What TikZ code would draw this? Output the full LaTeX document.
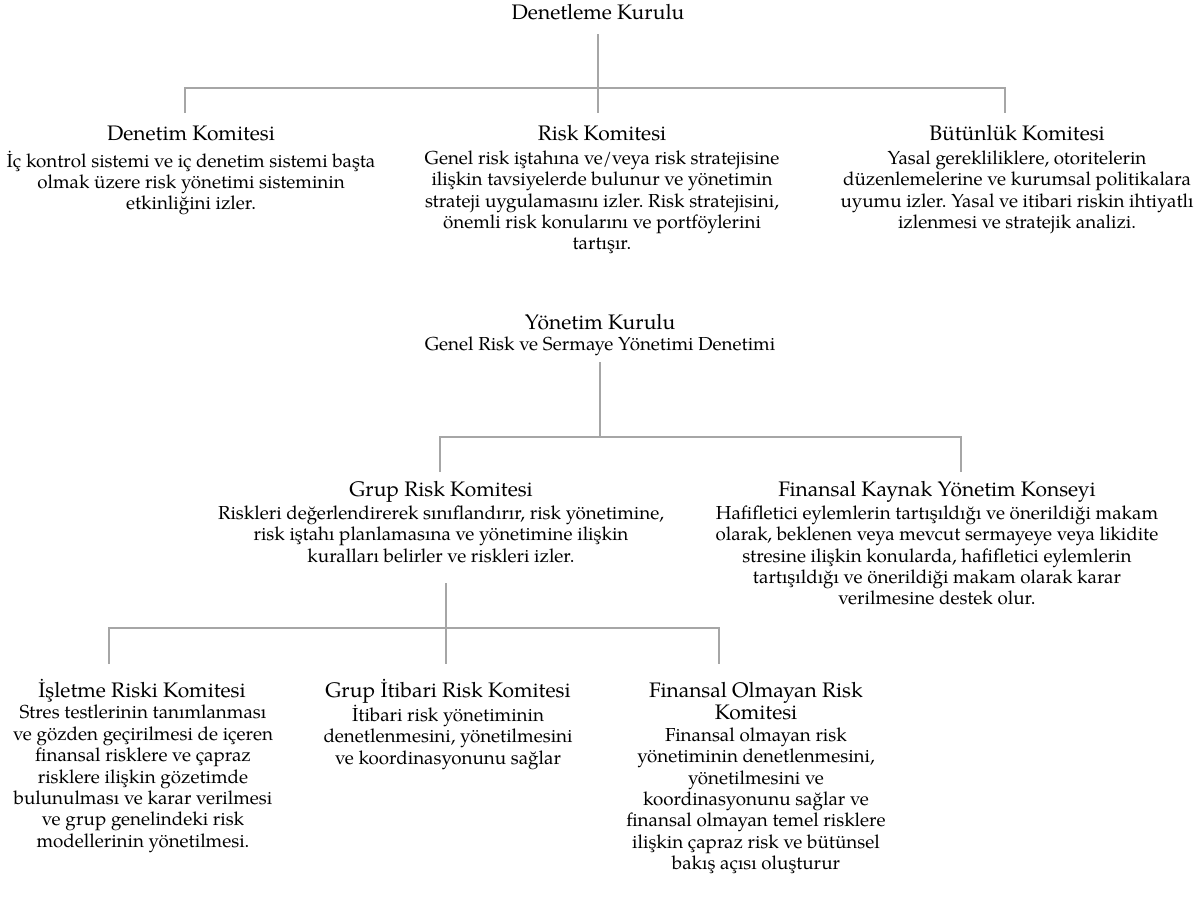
\documentclass[tikz,border=0pt]{standalone}
\usepackage{fontspec}
\setmainfont{TeX Gyre Pagella}
\frenchspacing
\begin{document}
\begin{tikzpicture}[x=1pt,y=-1pt,
  conn/.style={draw=black!35, line width=1.2pt},
  ttl/.style={font=\fontsize{21}{22}\selectfont, inner sep=0pt, align=center, anchor=base},
  ttl2/.style={font=\fontsize{21}{22}\selectfont, inner sep=0pt, align=center, anchor=north, execute at begin node=\strut},
  bdy/.style={font=\fontsize{18.8}{21.4}\selectfont, inner sep=0pt, align=center, anchor=north, execute at begin node=\strut},
  sub/.style={font=\fontsize{18.8}{21}\selectfont, inner sep=0pt, align=center, anchor=base}]
\useasboundingbox (0,0) rectangle (1204,910);

% level 1
\node[ttl] (dk) at (598,19) {Denetleme Kurulu};

\node[ttl] (dnk) at (191,140) {Denetim Komitesi};
\node[bdy] (dnkb) at (191,150.5) {İç kontrol sistemi ve iç denetim sistemi başta\\olmak üzere risk yönetimi sisteminin\\etkinliğini izler.};

\node[ttl] (rk) at (602,140) {Risk Komitesi};
\node[bdy] (rkb) at (602,150.5) {Genel risk iştahına ve/veya risk stratejisine\\ilişkin tavsiyelerde bulunur ve yönetimin\\strateji uygulamasını izler. Risk stratejisini,\\önemli risk konularını ve portföylerini\\tartışır.};

\node[ttl] (bk) at (1017,140) {Bütünlük Komitesi};
\node[bdy] (bkb) at (1017,150.5) {Yasal gerekliliklere, otoritelerin\\düzenlemelerine ve kurumsal politikalara\\uyumu izler. Yasal ve itibari riskin ihtiyatlı\\izlenmesi ve stratejik analizi.};

% level 2
\node[ttl] (yk) at (600,329) {Yönetim Kurulu};
\node[sub] (ykb) at (600,350) {Genel Risk ve Sermaye Yönetimi Denetimi};

\node[ttl] (grk) at (441,496) {Grup Risk Komitesi};
\node[bdy] (grkb) at (441,505.5) {Riskleri değerlendirerek sınıflandırır, risk yönetimine,\\risk iştahı planlamasına ve yönetimine ilişkin\\kuralları belirler ve riskleri izler.};

\node[ttl] (fky) at (937,496) {Finansal Kaynak Yönetim Konseyi};
\node[bdy] (fkyb) at (937,505.5) {Hafifletici eylemlerin tartışıldığı ve önerildiği makam\\olarak, beklenen veya mevcut sermayeye veya likidite\\stresine ilişkin konularda, hafifletici eylemlerin\\tartışıldığı ve önerildiği makam olarak karar\\verilmesine destek olur.};

% level 3
\node[ttl] (irk) at (142,697) {İşletme Riski Komitesi};
\node[bdy] (irkb) at (143,705) {Stres testlerinin tanımlanması\\ve gözden geçirilmesi de içeren\\finansal risklere ve çapraz\\risklere ilişkin gözetimde\\bulunulması ve karar verilmesi\\ve grup genelindeki risk\\modellerinin yönetilmesi.};

\node[ttl] (gir) at (448,697) {Grup İtibari Risk Komitesi};
\node[bdy] (girb) at (448,705) {İtibari risk yönetiminin\\denetlenmesini, yönetilmesini\\ve koordinasyonunu sağlar};

\node[ttl2] (for) at (756,682) {Finansal Olmayan Risk\\Komitesi};
\node[bdy] (forb) at (756,727.5) {Finansal olmayan risk\\yönetiminin denetlenmesini,\\yönetilmesini ve\\koordinasyonunu sağlar ve\\finansal olmayan temel risklere\\ilişkin çapraz risk ve bütünsel\\bakış açısı oluşturur};

% connectors
\coordinate (a0) at (598,34);
\coordinate (a1) at (598,113);
\coordinate (al) at (185,113);
\coordinate (ar) at (1005,113);
\draw[conn] (a0) -- (a1);
\draw[conn] (al) |- (a1 |- 0,88) -| (ar);

\coordinate (b0) at (600,362);
\coordinate (b1) at (600,437);
\coordinate (bl) at (440,472);
\coordinate (br) at (961,472);
\draw[conn] (b0) -- (b1);
\draw[conn] (bl) |- (b1) -| (br);

\coordinate (c0) at (446,583);
\coordinate (c1) at (446,664);
\coordinate (cl) at (109,664);
\coordinate (cr) at (719,664);
\draw[conn] (c0) -- (c1);
\draw[conn] (cl) |- (c1 |- 0,628) -| (cr);
\end{tikzpicture}
\end{document}
